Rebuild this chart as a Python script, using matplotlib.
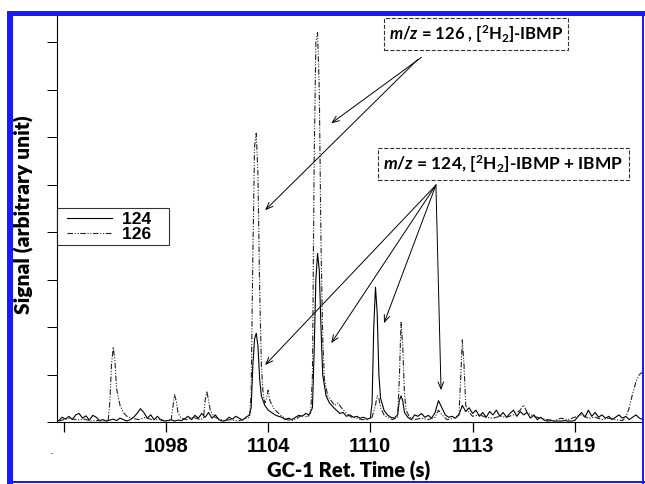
import matplotlib
matplotlib.use("Agg")
import matplotlib.pyplot as plt
from matplotlib.patches import Rectangle
from matplotlib.lines import Line2D
from matplotlib.legend_handler import HandlerLine2D

plt.rcParams["mathtext.fontset"] = "custom"
plt.rcParams["mathtext.rm"] = "Lato:bold"
plt.rcParams["mathtext.it"] = "Lato:italic:bold"
plt.rcParams["mathtext.bf"] = "Lato:bold"

# m/z 124 trace (solid)
t124 = [1091.7, 1091.9, 1092.1, 1092.3, 1092.5, 1092.7, 1092.9, 1093.1, 1093.3, 1093.5,
        1093.7, 1093.9, 1094.1, 1094.3, 1094.5, 1094.7, 1094.9, 1095.1, 1095.3, 1095.5,
        1095.7, 1095.9, 1096.1, 1096.3, 1096.5, 1096.7, 1096.9, 1097.1, 1097.3, 1097.5,
        1097.7, 1097.9, 1098.1, 1098.3, 1098.5, 1098.7, 1098.9, 1099.1, 1099.3, 1099.5,
        1099.7, 1099.9, 1100.1, 1100.3, 1100.5, 1100.7, 1100.9, 1101.1, 1101.3, 1101.5,
        1101.7, 1101.9, 1102.1, 1102.3, 1102.5, 1102.7, 1102.9, 1103.0, 1103.1, 1103.2,
        1103.3, 1103.4, 1103.5, 1103.6, 1103.8, 1104.0, 1104.2, 1104.4, 1104.6, 1104.8,
        1105.0, 1105.2, 1105.4, 1105.6, 1105.8, 1106.0, 1106.2, 1106.4, 1106.6, 1106.7,
        1106.8, 1106.9, 1107.0, 1107.1, 1107.2, 1107.4, 1107.6, 1107.8, 1108.0, 1108.2,
        1108.4, 1108.6, 1108.8, 1109.0, 1109.2, 1109.4, 1109.6, 1109.8, 1110.0, 1110.1,
        1110.2, 1110.3, 1110.4, 1110.5, 1110.6, 1110.8, 1111.0, 1111.2, 1111.4, 1111.6,
        1111.7, 1111.8, 1111.9, 1112.0, 1112.2, 1112.4, 1112.6, 1112.8, 1113.0, 1113.2,
        1113.4, 1113.6, 1113.8, 1114.0, 1114.2, 1114.4, 1114.6, 1114.8, 1115.0, 1115.2,
        1115.4, 1115.6, 1115.8, 1116.0, 1116.2, 1116.4, 1116.6, 1116.8, 1117.0, 1117.2,
        1117.4, 1117.6, 1117.8, 1118.0, 1118.2, 1118.4, 1118.6, 1118.8, 1119.0, 1119.2,
        1119.4, 1119.6, 1119.8, 1120.0, 1120.2, 1120.4, 1120.6, 1120.8, 1121.0, 1121.2,
        1121.4, 1121.6, 1121.8, 1122.0, 1122.2, 1122.4, 1122.6, 1122.8, 1123.0, 1123.2,
        1123.4, 1123.6, 1123.8, 1124.0, 1124.2, 1124.4, 1124.6, 1124.8, 1125.0, 1125.2,
        1125.4, 1125.6, 1125.8, 1126.0]
s124 = [0.03, 0.10, 0.06, 0.12, 0.05, 0.15, 0.18, 0.08, 0.13, 0.04,
        0.14, 0.10, 0.03, 0.05, 0.02, 0.04, 0.06, 0.03, 0.08, 0.05,
        0.02, 0.05, 0.10, 0.18, 0.28, 0.20, 0.08, 0.15, 0.05, 0.12,
        0.04, 0.02, 0.03, 0.05, 0.02, 0.04, 0.03, 0.07, 0.12, 0.05,
        0.14, 0.08, 0.18, 0.10, 0.20, 0.08, 0.15, 0.05, 0.02, 0.03,
        0.10, 0.06, 0.12, 0.08, 0.04, 0.10, 0.15, 0.30, 1.20, 1.75,
        1.87, 1.60, 0.90, 0.55, 0.35, 0.25, 0.20, 0.15, 0.12, 0.10,
        0.05, 0.08, 0.05, 0.10, 0.14, 0.12, 0.18, 0.15, 0.30, 1.50,
        3.00, 3.55, 3.20, 2.00, 1.00, 0.55, 0.40, 0.32, 0.25, 0.18,
        0.20, 0.12, 0.15, 0.10, 0.12, 0.08, 0.10, 0.06, 0.08, 0.40,
        2.00, 2.84, 2.30, 1.00, 0.50, 0.25, 0.15, 0.10, 0.08, 0.15,
        0.45, 0.55, 0.45, 0.20, 0.10, 0.05, 0.15, 0.12, 0.18, 0.10,
        0.14, 0.08, 0.20, 0.45, 0.30, 0.15, 0.10, 0.12, 0.08, 0.15,
        0.35, 0.22, 0.30, 0.18, 0.25, 0.12, 0.20, 0.10, 0.22, 0.15,
        0.25, 0.12, 0.20, 0.10, 0.18, 0.25, 0.12, 0.22, 0.15, 0.20,
        0.08, 0.15, 0.05, 0.10, 0.04, 0.02, 0.03, 0.02, 0.02, 0.02,
        0.03, 0.02, 0.02, 0.03, 0.12, 0.20, 0.10, 0.25, 0.12, 0.20,
        0.10, 0.15, 0.08, 0.12, 0.05, 0.10, 0.15, 0.08, 0.12, 0.05,
        0.10, 0.15, 0.08, 0.05]

# m/z 126 trace (dash-dot-dot)
t126 = [1091.7, 1092.0, 1092.4, 1092.8, 1093.2, 1093.6, 1094.0, 1094.4, 1094.6, 1094.7,
        1094.8, 1094.9, 1095.0, 1095.1, 1095.3, 1095.5, 1095.7, 1096.0, 1096.4, 1096.8,
        1097.2, 1097.6, 1098.0, 1098.3, 1098.4, 1098.5, 1098.6, 1098.7, 1098.9, 1099.2,
        1099.6, 1100.0, 1100.2, 1100.3, 1100.4, 1100.5, 1100.6, 1100.8, 1101.0, 1101.4,
        1101.8, 1102.2, 1102.6, 1102.9, 1103.0, 1103.1, 1103.2, 1103.3, 1103.4, 1103.5,
        1103.6, 1103.7, 1103.8, 1103.9, 1104.0, 1104.1, 1104.3, 1104.5, 1104.7, 1104.9,
        1105.1, 1105.4, 1105.7, 1106.0, 1106.3, 1106.5, 1106.6, 1106.7, 1106.8, 1106.9,
        1107.0, 1107.1, 1107.2, 1107.3, 1107.5, 1107.7, 1107.9, 1108.1, 1108.3, 1108.5,
        1108.7, 1108.9, 1109.2, 1109.5, 1109.8, 1110.1, 1110.3, 1110.4, 1110.5, 1110.6,
        1110.8, 1111.0, 1111.3, 1111.6, 1111.7, 1111.8, 1111.9, 1112.0, 1112.1, 1112.3,
        1112.6, 1113.0, 1113.4, 1113.8, 1114.0, 1114.2, 1114.5, 1114.9, 1115.2, 1115.3,
        1115.4, 1115.5, 1115.6, 1115.8, 1116.0, 1116.4, 1116.8, 1117.2, 1117.6, 1118.0,
        1118.4, 1118.8, 1119.0, 1119.2, 1119.6, 1120.0, 1120.4, 1120.8, 1121.2, 1121.6,
        1122.0, 1122.4, 1122.8, 1123.2, 1123.6, 1124.0, 1124.4, 1124.8, 1125.0, 1125.2,
        1125.4, 1125.6, 1125.8, 1126.0]
s126 = [0.02, 0.05, 0.08, 0.04, 0.06, 0.02, 0.03, 0.02, 0.02, 0.40,
        1.20, 1.58, 1.30, 0.70, 0.35, 0.20, 0.12, 0.08, 0.05, 0.10,
        0.04, 0.06, 0.02, 0.03, 0.30, 0.57, 0.45, 0.20, 0.08, 0.05,
        0.10, 0.05, 0.08, 0.45, 0.65, 0.45, 0.25, 0.12, 0.08, 0.03,
        0.05, 0.02, 0.06, 0.10, 0.60, 3.50, 5.80, 6.08, 5.20, 2.80,
        1.20, 0.60, 0.40, 0.50, 0.67, 0.45, 0.30, 0.22, 0.15, 0.10,
        0.05, 0.03, 0.08, 0.15, 0.10, 0.20, 1.00, 5.50, 8.00, 8.20,
        7.00, 3.80, 1.80, 0.90, 0.55, 0.45, 0.35, 0.40, 0.30, 0.22,
        0.15, 0.10, 0.08, 0.05, 0.05, 0.10, 0.35, 0.55, 0.50, 0.30,
        0.15, 0.10, 0.05, 0.10, 0.90, 2.10, 1.60, 0.60, 0.25, 0.10,
        0.05, 0.08, 0.05, 0.10, 0.25, 0.15, 0.05, 0.08, 0.15, 0.90,
        1.73, 1.20, 0.35, 0.20, 0.12, 0.15, 0.10, 0.08, 0.12, 0.10,
        0.15, 0.25, 0.36, 0.20, 0.12, 0.08, 0.05, 0.03, 0.08, 0.05,
        0.10, 0.15, 0.08, 0.10, 0.05, 0.08, 0.05, 0.03, 0.10, 0.30,
        0.60, 0.85, 1.00, 1.05]

tick_pos = [1092, 1098, 1104, 1110, 1116, 1122]
tick_labels = ["", "1098", "1104", "1110", "1113", "1119"]

label_126 = r"$\mathit{m/z}$ = 126 , [$^{2}$H$_{2}$]-IBMP"
label_124 = r"$\mathit{m/z}$ = 124, [$^{2}$H$_{2}$]-IBMP + IBMP"
arrows_126 = [((1113.0, 7.68), (1107.7, 6.29)), ((1112.8, 7.64), (1103.82, 4.46))]
arrows_124 = [((1113.85, 4.99), (1103.82, 1.20)), ((1113.85, 4.99), (1107.7, 1.66)),
              ((1113.85, 4.99), (1110.8, 2.08)), ((1113.85, 4.99), (1114.15, 0.67))]

dashdot = (5, 1.5, 1, 1.5, 1, 1.5)

fig = plt.figure(figsize=(6.45, 4.84), dpi=100)
ax = fig.add_axes([57 / 645, 62 / 484, 585 / 645, 406 / 484])

ax.plot(t124, s124, color="black", lw=0.8, label="124   ")
ax.plot(t126, s126, color="#222222", lw=0.8, dashes=dashdot, label="126   ")

ax.set_xlim(1091.6, 1125.95)
ax.set_ylim(0, 8.55)
ax.set_xticks(tick_pos)
ax.set_xticklabels(tick_labels, fontfamily="Liberation Sans", fontweight="bold", fontsize=14.5)
ax.set_yticks(range(0, 9))
ax.set_yticklabels([])
ax.tick_params(axis="x", direction="out", length=7, width=0.9, pad=3.5)
ax.tick_params(axis="y", direction="out", length=7, width=0.7)
ax.spines["top"].set_visible(False)
ax.spines["right"].set_visible(False)
ax.spines["left"].set_linewidth(0.8)
ax.spines["bottom"].set_linewidth(0.8)

leg = ax.legend(loc="upper left", bbox_to_anchor=(0, (422 - 208) / 406), borderaxespad=0,
                frameon=True, fancybox=False, edgecolor="black", handlelength=2.95,
                handletextpad=0.57, labelspacing=0.0, borderpad=0.2,
                handler_map={Line2D: HandlerLine2D(xpad=0.37)},
                prop={"family": "Liberation Sans", "weight": "bold", "size": 12.5})
leg.get_frame().set_linewidth(0.8)

box = dict(boxstyle="square,pad=0.3", fc="white", ec="#333333", ls="--", lw=0.8)
ax.text(1116.2, 8.17, label_126, ha="center", va="center", fontsize=12,
        fontfamily="Lato", fontweight="bold", bbox=box)
ax.text(1117.8, 5.43, label_124, ha="center", va="center", fontsize=12.5,
        fontfamily="Lato", fontweight="bold", bbox=box)

for start, tip in arrows_126 + arrows_124:
    ax.annotate("", xy=tip, xytext=start,
                arrowprops=dict(arrowstyle="->,head_length=0.5,head_width=0.2",
                                color="black", lw=0.7, shrinkA=0, shrinkB=0))

fig.text(24 / 645, 1 - 215 / 484, "Signal (arbitrary unit)", rotation=90, ha="center",
         va="center", fontfamily="Lato", fontweight="heavy", fontsize=15)
fig.text(349 / 645, 3 / 484, "GC-1 Ret. Time (s)", ha="center", va="bottom",
         fontfamily="Lato", fontweight="heavy", fontsize=14.5)
fig.text(52 / 645, 1 - 453 / 484, "-", ha="center", va="center", fontsize=5)

# blue frame
blue = "#1a1aff"
fig.add_artist(Rectangle((7 / 645, 0), 6 / 645, 473 / 484, transform=fig.transFigure,
                         fc=blue, ec="none"))
fig.add_artist(Rectangle((7 / 645, 1 - 16 / 484), 638 / 645, 5 / 484, transform=fig.transFigure,
                         fc=blue, ec="none"))
fig.add_artist(Rectangle((642 / 645, 0), 2 / 645, 473 / 484, transform=fig.transFigure,
                         fc=blue, ec="none"))
fig.add_artist(Rectangle((7 / 645, 1 / 484), 638 / 645, 2 / 484, transform=fig.transFigure,
                         fc=blue, ec="none"))

fig.savefig("out.png", dpi=100)
